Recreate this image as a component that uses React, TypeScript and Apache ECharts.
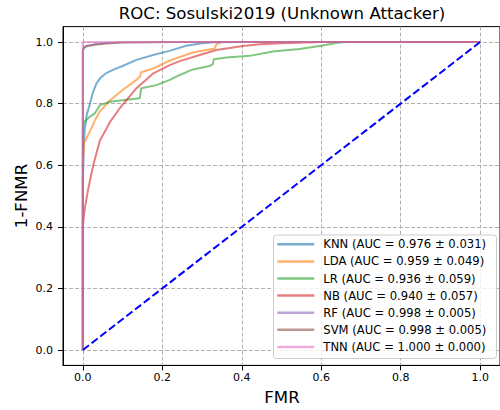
import React, { useEffect, useRef } from "react";
import * as echarts from "echarts";

const seriesNames = ["KNN", "LDA", "LR", "NB", "RF", "SVM", "TNN"];
const legendLabels = [
  "KNN (AUC = 0.976 ± 0.031)",
  "LDA (AUC = 0.959 ± 0.049)",
  "LR (AUC = 0.936 ± 0.059)",
  "NB (AUC = 0.940 ± 0.057)",
  "RF (AUC = 0.998 ± 0.005)",
  "SVM (AUC = 0.998 ± 0.005)",
  "TNN (AUC = 1.000 ± 0.000)",
];
const colors = [
  "rgba(31,119,180,0.6)",
  "rgba(255,127,14,0.6)",
  "rgba(44,160,44,0.6)",
  "rgba(214,39,40,0.6)",
  "rgba(148,103,189,0.6)",
  "rgba(140,86,75,0.6)",
  "rgba(227,119,194,0.6)",
];

const knnFmr = [0, 0, 0.002, 0.005, 0.01, 0.018, 0.025, 0.034, 0.045, 0.06, 0.08, 0.1, 0.135, 0.177, 0.22, 0.26, 0.3, 0.33, 0.4, 1];
const knnTpr = [0, 0.55, 0.65, 0.72, 0.765, 0.8, 0.835, 0.865, 0.885, 0.9, 0.912, 0.922, 0.942, 0.958, 0.972, 0.988, 0.996, 0.999, 1, 1];

const ldaFmr = [0, 0, 0.003, 0.01, 0.018, 0.03, 0.043, 0.068, 0.1, 0.135, 0.143, 0.147, 0.177, 0.219, 0.277, 0.332, 0.336, 0.35, 1];
const ldaTpr = [0, 0.6, 0.672, 0.69, 0.71, 0.745, 0.775, 0.81, 0.844, 0.877, 0.887, 0.902, 0.914, 0.94, 0.966, 0.979, 0.993, 1, 1];

const lrFmr = [0, 0, 0.003, 0.01, 0.018, 0.03, 0.043, 0.068, 0.143, 0.147, 0.185, 0.219, 0.244, 0.277, 0.319, 0.327, 0.33, 0.361, 0.42, 0.478, 0.545, 0.6, 0.637, 0.66, 1];
const lrTpr = [0, 0.72, 0.74, 0.748, 0.758, 0.768, 0.795, 0.806, 0.817, 0.85, 0.86, 0.877, 0.893, 0.911, 0.922, 0.928, 0.944, 0.95, 0.955, 0.969, 0.977, 0.988, 0.997, 1, 1];

const nbFmr = [0, 0, 0.002, 0.005, 0.013, 0.026, 0.043, 0.06, 0.068, 0.093, 0.135, 0.177, 0.219, 0.244, 0.294, 0.336, 0.403, 0.445, 0.5, 0.6, 1];
const nbTpr = [0, 0.4, 0.43, 0.46, 0.52, 0.6, 0.68, 0.72, 0.74, 0.785, 0.85, 0.898, 0.925, 0.938, 0.958, 0.974, 0.987, 0.993, 0.996, 1, 1];

const rfFmr = [0, 0, 0.003, 0.01, 0.03, 0.06, 0.1, 0.2, 1];
const rfTpr = [0, 0.975, 0.984, 0.988, 0.993, 0.997, 0.999, 1, 1];

const svmFmr = [0, 0, 0.003, 0.01, 0.03, 0.06, 0.1, 0.25, 1];
const svmTpr = [0, 0.97, 0.981, 0.986, 0.991, 0.995, 0.998, 1, 1];

const tnnFmr = [0, 0, 1];
const tnnTpr = [0, 1, 1];

const chanceFmr = [0, 1];
const chanceTpr = [0, 1];

const tickValues = [0, 0.2, 0.4, 0.6, 0.8, 1.0];

const FONT = "DejaVu Sans";

const zip = (xs: number[], ys: number[]) => xs.map((x, i) => [x, ys[i]]);

export default function App() {
  const ref = useRef<HTMLDivElement>(null);
  useEffect(() => {
    document.body.style.margin = "0";
    if (!ref.current) return;
    const chart = echarts.init(ref.current, null, { renderer: "svg" });
    const curves = [
      zip(knnFmr, knnTpr),
      zip(ldaFmr, ldaTpr),
      zip(lrFmr, lrTpr),
      zip(nbFmr, nbTpr),
      zip(rfFmr, rfTpr),
      zip(svmFmr, svmTpr),
      zip(tnnFmr, tnnTpr),
    ];
    const axisCommon = (isX: boolean) => ({
      type: "value",
      min: -0.05,
      max: 1.05,
      axisLine: { show: true, onZero: false, lineStyle: { color: "#000", width: 1 } },
      axisTick: {
        show: true,
        customValues: tickValues,
        length: 5,
        inside: false,
        lineStyle: { color: "#000", width: 1 },
      },
      axisLabel: {
        show: true,
        customValues: tickValues,
        formatter: (v: number) => v.toFixed(1),
        color: "#000",
        fontSize: 11,
        fontFamily: FONT,
        margin: isX ? 7 : 10,
      },
      splitLine: {
        show: true,
        lineStyle: { color: "#b0b0b0", width: 1, type: [4, 2] },
      },
    });
    chart.setOption({
      animation: false,
      grid: {
        left: 63,
        top: 26.6,
        width: 438,
        height: 338.8,
        show: true,
        borderColor: "#000",
        borderWidth: 1,
        backgroundColor: "transparent",
        containLabel: false,
      },
      xAxis: axisCommon(true),
      yAxis: axisCommon(false),
      legend: {
        orient: "vertical",
        left: 277.3,
        top: 238.3,
        padding: 0,
        icon: "rect",
        itemWidth: 37,
        itemHeight: 2.5,
        itemGap: 5.1,
        z: 10,
        data: seriesNames,
        formatter: (name: string) => legendLabels[seriesNames.indexOf(name)],
        textStyle: { color: "#000", fontSize: 11.6, fontFamily: FONT, padding: [0, 0, 0, 4] },
        selectedMode: false,
      },
      graphic: [
        {
          type: "rect",
          z: 5,
          shape: { x: 273.5, y: 235, width: 223, height: 123.5, r: 3 },
          style: { fill: "rgba(255,255,255,0.8)", stroke: "#cccccc", lineWidth: 1 },
        },
        {
          type: "text",
          x: 282,
          y: 13,
          style: {
            text: "ROC: Sosulski2019 (Unknown Attacker)",
            fontSize: 16.6,
            fontFamily: FONT,
            fill: "#000",
            align: "center",
            verticalAlign: "middle",
          },
        },
        {
          type: "text",
          x: 282,
          y: 397,
          style: {
            text: "FMR",
            fontSize: 16.6,
            fontFamily: FONT,
            fill: "#000",
            align: "center",
            verticalAlign: "middle",
          },
        },
        {
          type: "text",
          x: 21.7,
          y: 196,
          rotation: Math.PI / 2,
          style: {
            text: "1-FNMR",
            fontSize: 16.6,
            fontFamily: FONT,
            fill: "#000",
            align: "center",
            verticalAlign: "middle",
          },
        },
      ],
      series: [
        ...seriesNames.map((name, i) => ({
          name,
          type: "line",
          data: curves[i],
          symbol: "none",
          showSymbol: false,
          z: 2 + i * 0.01,
          lineStyle: { color: colors[i], width: 2 },
          itemStyle: { color: colors[i] },
        })),
        {
          name: "chance",
          type: "line",
          data: zip(chanceFmr, chanceTpr),
          symbol: "none",
          showSymbol: false,
          z: 3,
          lineStyle: { color: "#0000ff", width: 2, type: [7.7, 3.3] },
        },
      ],
    });
    return () => chart.dispose();
  }, []);
  return <div ref={ref} style={{ width: 500, height: 410 }} />;
}
